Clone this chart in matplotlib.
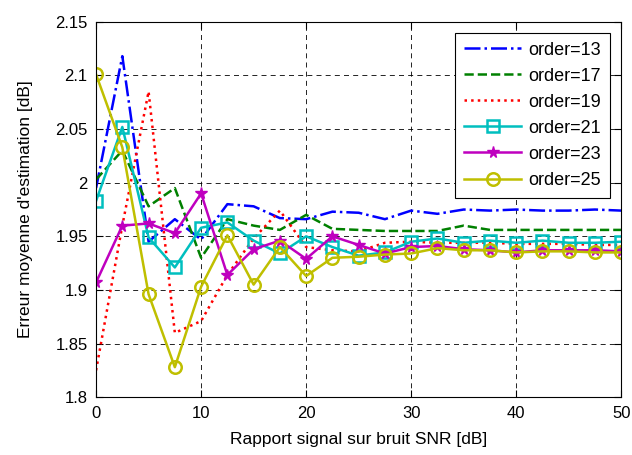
import numpy as np
import matplotlib
matplotlib.use("Agg")
import matplotlib.pyplot as plt

plt.rcParams['font.family'] = ['Liberation Sans', 'DejaVu Sans']

snr = np.arange(0, 50.1, 2.5)

order13 = [1.995, 2.118, 1.945, 1.966, 1.947, 1.980, 1.978, 1.967, 1.966, 1.973, 1.972,
           1.966, 1.974, 1.971, 1.975, 1.974, 1.975, 1.974, 1.974, 1.975, 1.974]
order17 = [2.003, 2.030, 1.978, 1.995, 1.930, 1.966, 1.960, 1.956, 1.970, 1.957, 1.956,
           1.955, 1.955, 1.955, 1.960, 1.956, 1.956, 1.956, 1.956, 1.956, 1.956]
order19 = [1.825, 1.960, 2.085, 1.860, 1.871, 1.914, 1.948, 1.974, 1.940, 1.937, 1.936,
           1.944, 1.945, 1.944, 1.944, 1.944, 1.943, 1.943, 1.943, 1.942, 1.942]
order21 = [1.983, 2.052, 1.949, 1.921, 1.958, 1.963, 1.946, 1.934, 1.950, 1.940, 1.932,
           1.935, 1.945, 1.948, 1.944, 1.946, 1.944, 1.946, 1.944, 1.944, 1.945]
order23 = [1.907, 1.960, 1.962, 1.953, 1.990, 1.914, 1.938, 1.946, 1.929, 1.950, 1.942,
           1.934, 1.940, 1.941, 1.938, 1.937, 1.935, 1.937, 1.937, 1.937, 1.936]
order25 = [2.101, 2.033, 1.896, 1.828, 1.903, 1.951, 1.905, 1.940, 1.913, 1.930, 1.931,
           1.933, 1.934, 1.939, 1.937, 1.937, 1.935, 1.936, 1.936, 1.935, 1.935]

yticks = [1.8, 1.85, 1.9, 1.95, 2.0, 2.05, 2.1, 2.15]
ytick_labels = ['1.8', '1.85', '1.9', '1.95', '2', '2.05', '2.1', '2.15']

fig = plt.figure(figsize=(6.32, 4.55), dpi=100)
ax = fig.add_axes([0.152, 0.127, 0.831, 0.825])

lw = 1.8
ax.plot(snr, order13, '-.', color=(0, 0, 1), lw=lw, label='order=13')
ax.plot(snr, order17, '--', color=(0, 0.5, 0), lw=lw, label='order=17')
ax.plot(snr, order19, ':', color=(1, 0, 0), lw=lw, label='order=19')
ax.plot(snr, order21, '-', color=(0, 0.75, 0.75), lw=lw, marker='s', ms=9,
        mfc='none', mew=1.8, label='order=21')
ax.plot(snr, order23, '-', color=(0.75, 0, 0.75), lw=lw, marker='*', ms=8.5,
        mew=1.0, label='order=23')
ax.plot(snr, order25, '-', color=(0.75, 0.75, 0), lw=lw, marker='o', ms=9,
        mfc='none', mew=1.8, label='order=25')

ax.set_xlim(0, 50)
ax.set_ylim(1.8, 2.15)
ax.set_xticks(range(0, 51, 10))
ax.set_yticks(yticks)
ax.set_yticklabels(ytick_labels)
ax.tick_params(direction='in', top=True, right=True, labelsize=12, length=5)
ax.tick_params(axis='x', pad=6)
ax.tick_params(axis='y', pad=6)
ax.grid(True, color='black', linestyle=(0, (6, 5)), linewidth=0.6)

ax.set_xlabel('Rapport signal sur bruit SNR [dB]', fontsize=12.5, labelpad=8)
ax.set_ylabel("Erreur moyenne d'estimation [dB]", fontsize=12.5, labelpad=16)

leg = ax.legend(loc='upper right', fontsize=13, handlelength=3.2, fancybox=False,
                framealpha=1, edgecolor='black', borderaxespad=0.6, labelspacing=0.5,
                handletextpad=0.4, borderpad=0.5)
leg.get_frame().set_linewidth(0.8)

fig.savefig('out.png', dpi=100)
